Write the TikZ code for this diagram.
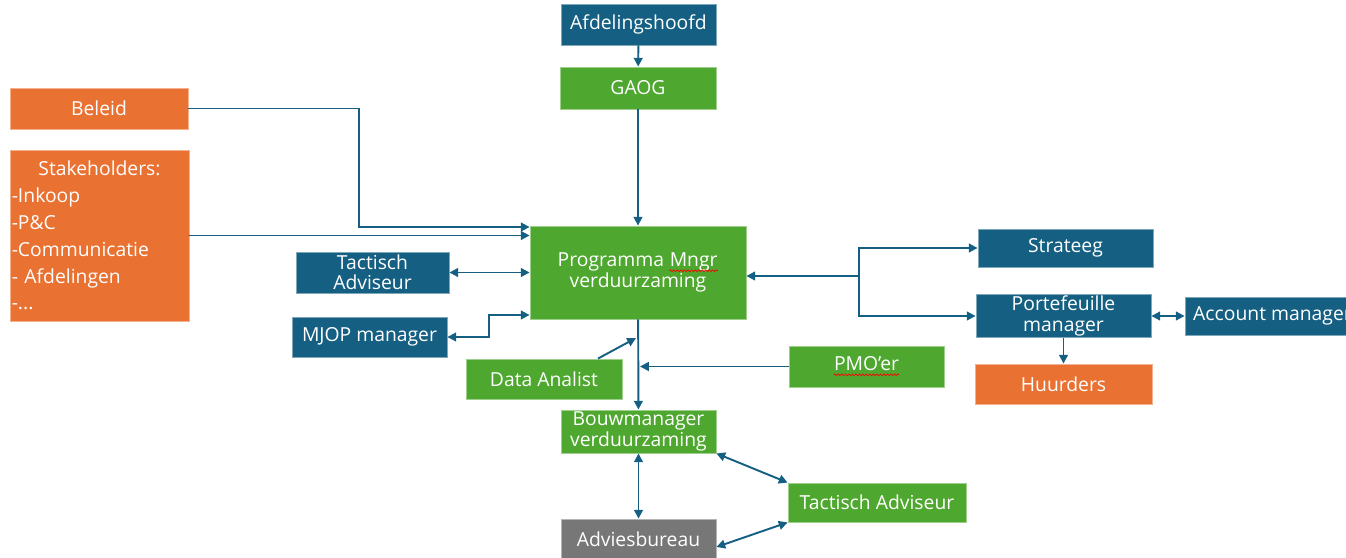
\documentclass[tikz,border=0pt]{standalone}
\usepackage{fontspec}
\setmainfont{Open Sans}
\usetikzlibrary{arrows.meta,decorations.pathmorphing}
\definecolor{dblue}{HTML}{156082}
\definecolor{lgreen}{HTML}{4EA72E}
\definecolor{dorange}{HTML}{E97132}
\definecolor{mgrey}{HTML}{777777}
\setlength{\parindent}{0pt}
\newcommand{\spellwave}[1]{\tikz[baseline=(w.base)]{\node[inner sep=0pt, minimum width=0pt, minimum height=0pt,
    draw=none, fill=none, text=white] (w) {#1};
  \draw[red, line width=0.4pt, decorate, decoration={snake, amplitude=0.5pt, segment length=2pt}]
    ([yshift=-2.2pt]w.base west) -- ([yshift=-2.2pt]w.base east);}}

\begin{document}
\begin{tikzpicture}[x=0.02cm,y=-0.02cm,
  >={Triangle[length=5pt,width=5pt]},
  box/.style={rectangle, inner sep=1pt, text=white, align=center, line width=0.5pt,
    font=\fontsize{11}{11.6}\selectfont},
  bluebox/.style={box, fill=dblue, draw=dblue!55!white},
  greenbox/.style={box, fill=lgreen, draw=lgreen!55!white},
  orangebox/.style={box, fill=dorange, draw=dorange!55!white},
  greybox/.style={box, fill=mgrey, draw=mgrey!55!white},
  link/.style={draw=dblue, line width=1.1pt}]
        \useasboundingbox (0,0) rectangle (1346,558);
        \clip (0,0) rectangle (1346,558);

        \node[bluebox, minimum width=3.10cm, minimum height=0.82cm] (afd) at (638.5,24.5) {Afdelingshoofd};
        \node[greenbox, minimum width=3.12cm, minimum height=0.84cm] (gaog) at (638,88) {GAOG};
        \node[greenbox, minimum width=4.32cm, minimum height=1.86cm] (prog) at (638,272.5) {Programma \spellwave{Mngr}\\verduurzaming};
        \node[orangebox, minimum width=3.56cm, minimum height=0.82cm] (beleid) at (99,108.5) {Beleid};
        \node[orangebox, minimum width=3.58cm, minimum height=3.42cm, text width=3.58cm-2pt, align=left,
          font=\fontsize{11}{15.3}\selectfont] (stake) at (99.5,235.5)
          {\hspace*{\fill}Stakeholders:\hspace*{\fill}\null\\-Inkoop\\-P\&C\\-Communicatie\\- Afdelingen\\-...};
        \node[bluebox, minimum width=3.06cm, minimum height=0.82cm] (tact1) at (372.5,272.5) {Tactisch\\Adviseur};
        \node[bluebox, minimum width=3.10cm, minimum height=0.80cm] (mjop) at (369.5,337) {MJOP manager};
        \node[greenbox, minimum width=3.12cm, minimum height=0.80cm] (data) at (544,379) {Data Analist};
        \node[greenbox, minimum width=3.10cm, minimum height=0.82cm] (pmo) at (866.5,366.5) {\spellwave{PMO’er}};
        \node[greenbox, minimum width=3.10cm, minimum height=0.86cm] (bouw) at (638.5,431.5) {Bouwmanager\\verduurzaming};
        \node[greybox, minimum width=3.10cm, minimum height=0.82cm] (advies) at (638.5,539.5) {Adviesbureau};
        \node[greenbox, minimum width=3.56cm, minimum height=0.78cm] (tact2) at (877,502.5) {Tactisch Adviseur};
        \node[bluebox, minimum width=3.50cm, minimum height=0.76cm] (strateeg) at (1065.5,248) {Strateeg};
        \node[bluebox, minimum width=3.50cm, minimum height=0.76cm] (porte) at (1063.5,316) {Portefeuille\\manager};
        \node[bluebox, minimum width=3.50cm, minimum height=0.76cm] (account) at (1272.5,316) {Account manager};
        \node[orangebox, minimum width=3.54cm, minimum height=0.80cm] (huurders) at (1063.5,384) {Huurders};

        \coordinate (split) at (859,276);
        \coordinate (dajoin) at (636,338);
        \coordinate (pmojoin) at (640,366.5);

        \draw[link, ->] (afd) -- (gaog);
        \draw[link, ->] (gaog) -- (prog);
        \draw[link, ->] (beleid.east) -| (359,227) -- (prog.west |- 0,227);
        \draw[link, ->] (stake.east) -- (prog.west |- stake.east);
        \draw[link, <->] (tact1.east) -- (prog.west |- tact1.east);
        \draw[link, <->] (prog.west |- 0,315) -| (489,337) -- (mjop.east);
        \draw[link, ->] (prog) -- (bouw);
        \draw[link, ->] (data.north -| 598,0) -- (dajoin);
        \draw[link, ->] (pmo.west) -- (pmojoin);
        \draw[link, <->] (bouw) -- (advies);
        \draw[link, <->] (bouw.south east) -- (tact2.north west);
        \draw[link, <->] (advies.east |- 0,547) -- (tact2.south west);
        \draw[link, ->] (split) -- (prog.east |- split);
        \draw[link, ->] (split) |- (strateeg.west);
        \draw[link, ->] (split) |- (porte.west);
        \draw[link, <->] (porte) -- (account);
        \draw[link, ->] (porte) -- (huurders);
    \end{tikzpicture}
\end{document}
